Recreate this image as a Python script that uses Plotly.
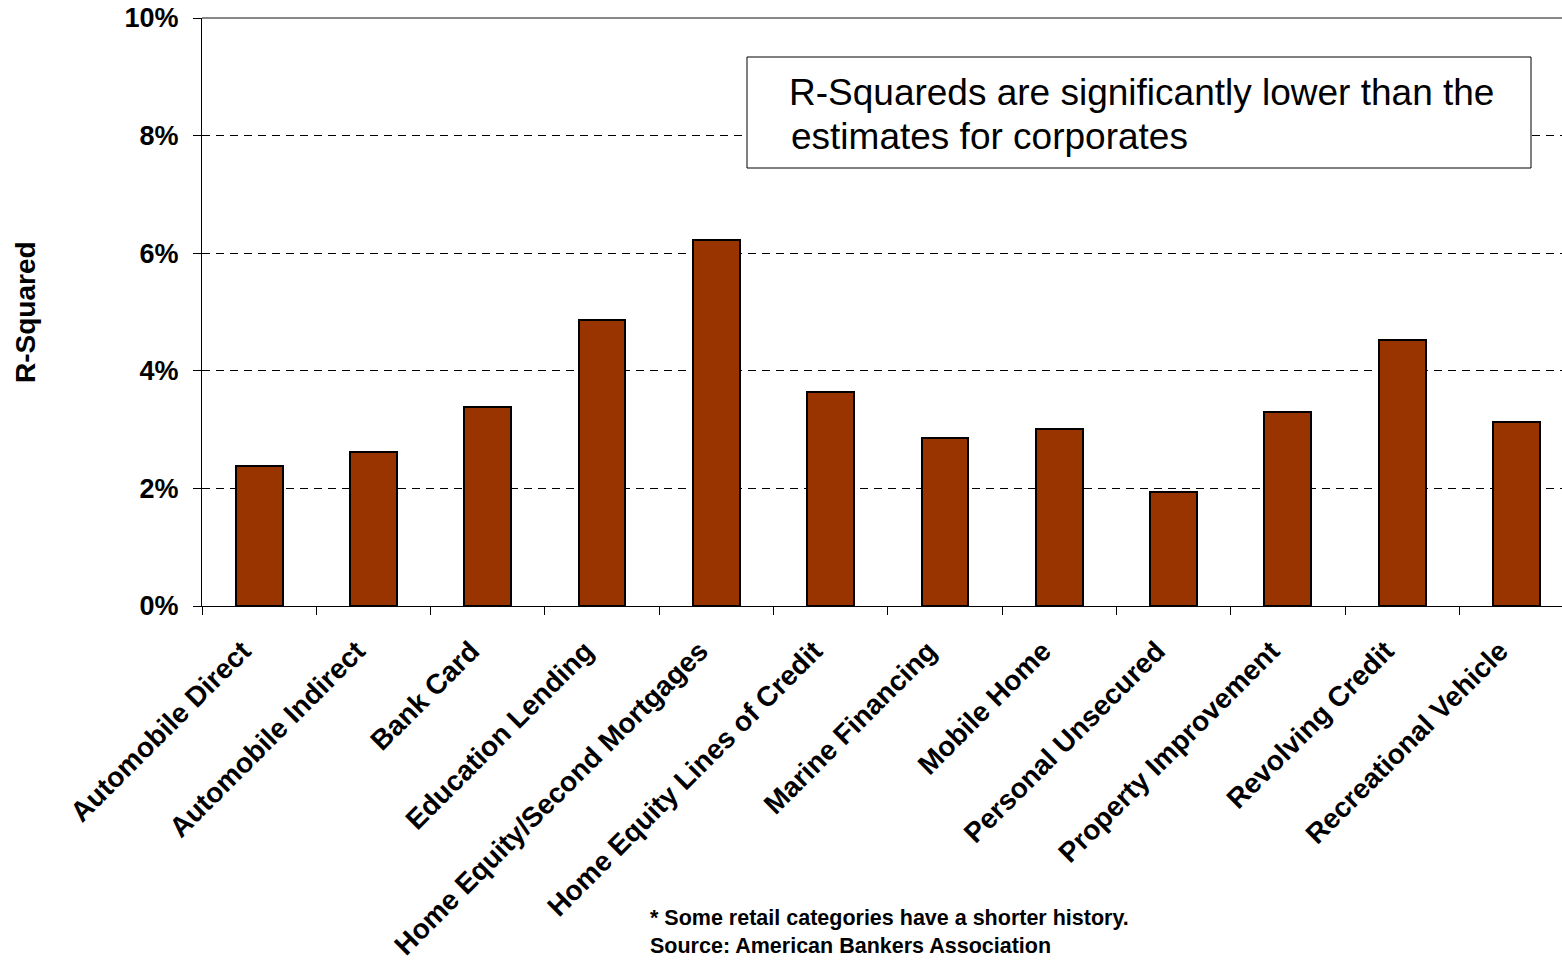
import plotly.graph_objects as go

categories = [
    "Automobile Direct", "Automobile Indirect", "Bank Card", "Education Lending",
    "Home Equity/Second Mortgages", "Home Equity Lines of Credit", "Marine Financing",
    "Mobile Home", "Personal Unsecured", "Property Improvement", "Revolving Credit",
    "Recreational Vehicle",
]
r_squared = [2.38, 2.62, 3.38, 4.86, 6.22, 3.64, 2.86, 3.01, 1.94, 3.30, 4.52, 3.13]
y_ticks = [0, 2, 4, 6, 8, 10]
y_tick_labels = ["0%", "2%", "4%", "6%", "8%", "10%"]

W, H = 1562, 964
L, T, B = 202, 18, 358
plot_w = W - L
cat_px = 114.3

FONT = "Liberation Sans, Arial, sans-serif"
PAD = "\u00a0\u00a0\u00a0"

fig = go.Figure()
fig.add_trace(go.Bar(
    x=categories, y=r_squared, width=0.41,
    marker=dict(color="#993300", line=dict(color="black", width=2)),
))

fig.update_layout(
    width=W, height=H,
    margin=dict(l=L, r=0, t=T, b=B, pad=0),
    plot_bgcolor="white", paper_bgcolor="white",
    showlegend=False, bargap=0,
    font=dict(family=FONT, color="black"),
    xaxis=dict(
        type="category",
        range=[-0.5, plot_w / cat_px - 0.5],
        tickmode="array", tickvals=categories,
        ticktext=[c + PAD for c in categories],
        tickangle=-45, tickson="boundaries", ticks="outside", ticklen=8,
        tickcolor="black", tickwidth=1,
        tickfont=dict(family=FONT, size=28, weight="bold", color="black"),
        showline=True, linecolor="black", linewidth=1,
        showgrid=False, zeroline=False, fixedrange=True,
    ),
    yaxis=dict(
        range=[0, 10], tickmode="array", tickvals=y_ticks, ticktext=y_tick_labels,
        ticks="outside", ticklen=8, tickcolor="black", tickwidth=1,
        ticklabelstandoff=9,
        tickfont=dict(family=FONT, size=27, weight="bold", color="black"),
        showline=True, linecolor="black", linewidth=1,
        showgrid=True, gridcolor="black", gridwidth=1, griddash="8px,6px",
        zeroline=False, fixedrange=True,
    ),
)

# top border line (gray)
fig.add_shape(type="line", xref="paper", yref="paper", x0=0, x1=1, y0=1, y1=1,
              line=dict(color="#888888", width=2), layer="above")

# text box
fig.add_shape(type="rect", xref="paper", yref="paper",
              x0=(747 - L) / plot_w, x1=(1531 - L) / plot_w,
              y0=(606 - 168) / 588, y1=(606 - 57) / 588,
              line=dict(color="black", width=1), fillcolor="white", layer="above")
fig.add_annotation(xref="paper", yref="paper", x=(787 - L) / plot_w, y=(606 - 92) / 588,
                   xanchor="left", yanchor="middle", showarrow=False,
                   text="R-Squareds are significantly lower than the",
                   font=dict(family=FONT, size=37, color="black"))
fig.add_annotation(xref="paper", yref="paper", x=(789 - L) / plot_w, y=(606 - 137) / 588,
                   xanchor="left", yanchor="middle", showarrow=False,
                   text="estimates for corporates",
                   font=dict(family=FONT, size=37, color="black"))

# y-axis title
fig.add_annotation(xref="paper", yref="paper", x=0, y=(606 - 312) / 588, xshift=-(L - 25),
                   xanchor="center", yanchor="middle", showarrow=False, textangle=-90,
                   text="R-Squared", font=dict(family=FONT, size=28, weight="bold", color="black"))

# footnotes
fig.add_annotation(xref="paper", yref="paper", x=(648 - L) / plot_w, y=(606 - 918) / 588,
                   xanchor="left", yanchor="middle", showarrow=False,
                   text="* Some retail categories have a shorter history.",
                   font=dict(family=FONT, size=21.5, weight="bold", color="black"))
fig.add_annotation(xref="paper", yref="paper", x=(648 - L) / plot_w, y=(606 - 946) / 588,
                   xanchor="left", yanchor="middle", showarrow=False,
                   text="Source: American Bankers Association",
                   font=dict(family=FONT, size=21.5, weight="bold", color="black"))

fig.write_html("out.html")
